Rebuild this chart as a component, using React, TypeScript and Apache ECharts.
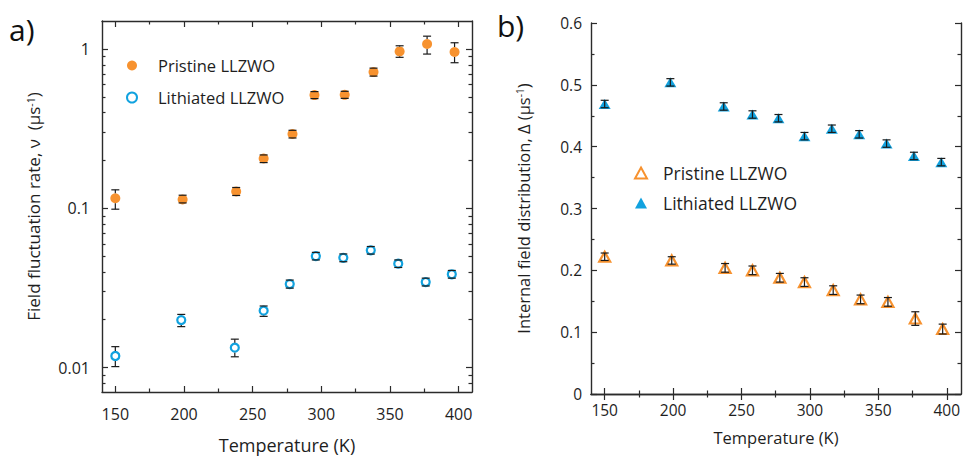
import React, { useEffect, useRef } from 'react';
import * as echarts from 'echarts';

// ---- Panel a) field fluctuation rate (log scale) ----
const tempPristineA = [150, 199, 238, 258, 279, 295, 317, 338, 357, 377, 397];
const nuPristine = [0.116, 0.114, 0.128, 0.206, 0.294, 0.516, 0.518, 0.72, 0.97, 1.08, 0.962];
const nuPristineLo = [0.099, 0.1084, 0.1207, 0.1943, 0.2774, 0.4903, 0.492, 0.679, 0.891, 0.934, 0.824];
const nuPristineHi = [0.131, 0.1212, 0.1355, 0.217, 0.31, 0.5427, 0.545, 0.762, 1.053, 1.21, 1.1];

const tempLithiatedA = [150, 198, 237, 258, 277, 296, 316, 336, 356, 376, 395];
const nuLithiated = [0.01184, 0.0199, 0.01335, 0.0228, 0.0335, 0.0502, 0.049, 0.0546, 0.045, 0.0345, 0.0386];
const nuLithiatedLo = [0.01015, 0.0181, 0.0117, 0.021, 0.0316, 0.0475, 0.0463, 0.0517, 0.0426, 0.0326, 0.0365];
const nuLithiatedHi = [0.01355, 0.0216, 0.0151, 0.0244, 0.0355, 0.053, 0.0518, 0.0577, 0.0475, 0.0365, 0.0408];

// ---- Panel b) internal field distribution ----
const tempPristineB = [150, 199, 238, 258, 278, 296, 317, 337, 357, 377, 397];
const deltaPristine = [0.222, 0.216, 0.204, 0.2, 0.188, 0.181, 0.168, 0.153, 0.149, 0.122, 0.105];
const deltaPristineErr = [0.006, 0.006, 0.007, 0.007, 0.007, 0.007, 0.007, 0.007, 0.007, 0.011, 0.008];

const tempLithiatedB = [150, 198, 237, 258, 277, 296, 316, 336, 356, 376, 396];
const deltaLithiated = [0.469, 0.504, 0.465, 0.452, 0.446, 0.417, 0.429, 0.42, 0.405, 0.385, 0.375];
const deltaLithiatedErr = [0.006, 0.006, 0.006, 0.006, 0.006, 0.006, 0.006, 0.006, 0.006, 0.006, 0.006];

// ---- ticks ----
const tempMajorTicks = [150, 200, 250, 300, 350, 400];
const tempMinorTicks = [175, 225, 275, 325, 375];
const nuMajorTicks = [0.01, 0.1, 1];
const nuMinorTicks = [
  0.008, 0.009,
  0.02, 0.03, 0.04, 0.05, 0.06, 0.07, 0.08, 0.09,
  0.2, 0.3, 0.4, 0.5, 0.6, 0.7, 0.8, 0.9,
];
const deltaMajorTicks = [0, 0.1, 0.2, 0.3, 0.4, 0.5, 0.6];
const deltaMinorTicks = [0.05, 0.15, 0.25, 0.35, 0.45, 0.55];

const seriesNames = ['Pristine LLZWO', 'Lithiated LLZWO'];

const ORANGE = '#F7922F';
const BLUE = '#11A2DF';
const AXIS = '#2b2b2b';
const TEXT = '#1e1e1e';
const FONT = 'Open Sans';

function makeAxes(
  dim: 'x' | 'y',
  gridIndex: number,
  type: string,
  min: number,
  max: number,
  major: number[],
  minor: number[],
  opts: any
) {
  const posMain = dim === 'x' ? 'bottom' : 'left';
  const posMirror = dim === 'x' ? 'top' : 'right';
  const base: any = { gridIndex, type, min, max, splitLine: { show: false } };
  if (type === 'log') base.logBase = 10;
  const line = { show: true, lineStyle: { color: AXIS, width: 1.4 } };
  const noLine = { show: false };
  const tick = (vals: number[], len: number) => ({
    show: true,
    inside: true,
    length: len,
    customValues: vals,
    lineStyle: { color: AXIS, width: 1.2 },
  });
  return [
    {
      ...base,
      position: posMain,
      axisLine: line,
      axisTick: tick(major, 6),
      axisLabel: {
        show: true,
        customValues: major,
        margin: opts.labelMargin,
        fontSize: opts.labelSize,
        fontFamily: FONT,
        color: TEXT,
        formatter: (v: number) => String(v),
      },
      name: opts.name,
      nameLocation: 'middle',
      nameGap: opts.nameGap,
      nameTextStyle: {
        fontSize: opts.nameSize,
        fontFamily: FONT,
        color: TEXT,
        rich: {
          sup: { fontSize: opts.nameSize * 0.62, fontFamily: FONT, color: TEXT, verticalAlign: 'top', padding: [0, 0, 4, 0] },
        },
      },
    },
    { ...base, position: posMain, axisLine: noLine, axisTick: tick(minor, 3.5), axisLabel: { show: false } },
    { ...base, position: posMirror, axisLine: line, axisTick: tick(major, 6), axisLabel: { show: false } },
    { ...base, position: posMirror, axisLine: noLine, axisTick: tick(minor, 3.5), axisLabel: { show: false } },
  ];
}

function errorSeries(
  xAxisIndex: number,
  yAxisIndex: number,
  xs: number[],
  ys: number[],
  lo: number[],
  hi: number[],
  gap: number
) {
  return {
    type: 'custom',
    xAxisIndex,
    yAxisIndex,
    silent: true,
    z: 4,
    encode: { x: 0, y: [1, 2, 3] },
    data: xs.map((x, i) => [x, ys[i], lo[i], hi[i]]),
    renderItem: (_params: any, api: any) => {
      const x = api.value(0);
      const pc = api.coord([x, api.value(1)]);
      const pl = api.coord([x, api.value(2)]);
      const ph = api.coord([x, api.value(3)]);
      const hw = 4;
      const style = { stroke: '#1a1a1a', lineWidth: 1.2 };
      const children: any[] = [];
      if (gap > 0) {
        if (pc[1] - gap > ph[1]) children.push({ type: 'line', shape: { x1: ph[0], y1: ph[1], x2: ph[0], y2: pc[1] - gap }, style });
        if (pl[1] > pc[1] + gap) children.push({ type: 'line', shape: { x1: pl[0], y1: pc[1] + gap, x2: pl[0], y2: pl[1] }, style });
      } else {
        children.push({ type: 'line', shape: { x1: ph[0], y1: ph[1], x2: pl[0], y2: pl[1] }, style });
      }
      children.push({ type: 'line', shape: { x1: ph[0] - hw, y1: ph[1], x2: ph[0] + hw, y2: ph[1] }, style });
      children.push({ type: 'line', shape: { x1: pl[0] - hw, y1: pl[1], x2: pl[0] + hw, y2: pl[1] }, style });
      return { type: 'group', children };
    },
  };
}

export default function App() {
  const ref = useRef<HTMLDivElement>(null);

  useEffect(() => {
    if (!ref.current) return;
    const chart = echarts.init(ref.current, null, { renderer: 'svg' });

    const xA = makeAxes('x', 0, 'value', 140.3, 409.7, tempMajorTicks, tempMinorTicks, {
      name: 'Temperature (K)', nameGap: 44, nameSize: 18, labelMargin: 14, labelSize: 16,
    });
    const xB = makeAxes('x', 1, 'value', 140, 410.4, tempMajorTicks, tempMinorTicks, {
      name: 'Temperature (K)', nameGap: 35, nameSize: 16.5, labelMargin: 8, labelSize: 15.5,
    });
    const yA = makeAxes('y', 0, 'log', 0.00703, 1.507, nuMajorTicks, nuMinorTicks, {
      name: 'Field fluctuation rate, ν  (μs{sup|-1})', nameGap: 60, nameSize: 17, labelMargin: 12, labelSize: 16,
    });
    const yB = makeAxes('y', 1, 'value', 0, 0.6, deltaMajorTicks, deltaMinorTicks, {
      name: 'Internal field distribution, Δ (μs{sup|-1})', nameGap: 59, nameSize: 16.5, labelMargin: 9, labelSize: 15.5,
    });

    const option: any = {
      animation: false,
      backgroundColor: '#ffffff',
      textStyle: { fontFamily: FONT },
      grid: [
        { left: 102, top: 21, width: 370, height: 371, show: false, containLabel: false, outerBoundsMode: 'none' },
        { left: 591, top: 23, width: 370, height: 371, show: false, containLabel: false, outerBoundsMode: 'none' },
      ],
      xAxis: [...xA, ...xB],
      yAxis: [...yA, ...yB],
      legend: [
        {
          orient: 'vertical',
          left: 126,
          top: 57,
          padding: 0,
          itemWidth: 10,
          itemHeight: 10,
          itemGap: 15,
          textStyle: { fontSize: 16.5, fontFamily: FONT, color: TEXT, padding: [0, 0, 0, 16] },
          data: [
            { name: 'Pristine LLZWO', icon: 'circle' },
            { name: 'Lithiated LLZWO', icon: 'circle' },
          ],
        },
        {
          orient: 'vertical',
          left: 634,
          top: 164,
          padding: 0,
          itemWidth: 12,
          itemHeight: 11,
          itemGap: 12,
          textStyle: { fontSize: 17.5, fontFamily: FONT, color: TEXT, padding: [0, 0, 0, 11] },
          data: [
            { name: 'Pristine LLZWO (b)', icon: 'triangle' },
            { name: 'Lithiated LLZWO (b)', icon: 'triangle' },
          ],
          formatter: (n: string) => n.replace(' (b)', ''),
        },
      ],
      graphic: [
        { type: 'text', left: 9, top: 14, style: { text: 'a)', fontSize: 30, fontFamily: FONT, fill: '#111' } },
        { type: 'text', left: 497, top: 10, style: { text: 'b)', fontSize: 30, fontFamily: FONT, fill: '#111' } },
      ],
      series: [
        {
          name: seriesNames[0],
          type: 'scatter',
          xAxisIndex: 0,
          yAxisIndex: 0,
          symbol: 'circle',
          symbolSize: 10,
          itemStyle: { color: ORANGE, opacity: 1 },
          z: 3,
          data: tempPristineA.map((t, i) => [t, nuPristine[i]]),
        },
        {
          name: seriesNames[1],
          type: 'scatter',
          xAxisIndex: 0,
          yAxisIndex: 0,
          symbol: 'circle',
          symbolSize: 8,
          itemStyle: { color: '#ffffff', borderColor: BLUE, borderWidth: 2.2, opacity: 1 },
          z: 3,
          data: tempLithiatedA.map((t, i) => [t, nuLithiated[i]]),
        },
        errorSeries(0, 0, tempPristineA, nuPristine, nuPristineLo, nuPristineHi, 5),
        errorSeries(0, 0, tempLithiatedA, nuLithiated, nuLithiatedLo, nuLithiatedHi, 5),
        {
          name: 'Pristine LLZWO (b)',
          type: 'scatter',
          xAxisIndex: 4,
          yAxisIndex: 4,
          symbol: 'triangle',
          symbolSize: [11, 10],
          itemStyle: { color: '#ffffff', borderColor: ORANGE, borderWidth: 2.2, opacity: 1 },
          z: 3,
          data: tempPristineB.map((t, i) => [t, deltaPristine[i]]),
        },
        {
          name: 'Lithiated LLZWO (b)',
          type: 'scatter',
          xAxisIndex: 4,
          yAxisIndex: 4,
          symbol: 'triangle',
          symbolSize: [12, 10],
          itemStyle: { color: BLUE, opacity: 1 },
          z: 3,
          data: tempLithiatedB.map((t, i) => [t, deltaLithiated[i]]),
        },
        errorSeries(
          4, 4, tempPristineB, deltaPristine,
          deltaPristine.map((v, i) => v - deltaPristineErr[i]),
          deltaPristine.map((v, i) => v + deltaPristineErr[i]),
          0
        ),
        errorSeries(
          4, 4, tempLithiatedB, deltaLithiated,
          deltaLithiated.map((v, i) => v - deltaLithiatedErr[i]),
          deltaLithiated.map((v, i) => v + deltaLithiatedErr[i]),
          0
        ),
      ],
    };

    chart.setOption(option);
    return () => chart.dispose();
  }, []);

  return (
    <div
      ref={ref}
      style={{ position: 'fixed', left: 0, top: 0, width: 963, height: 457, background: '#fff' }}
    />
  );
}
